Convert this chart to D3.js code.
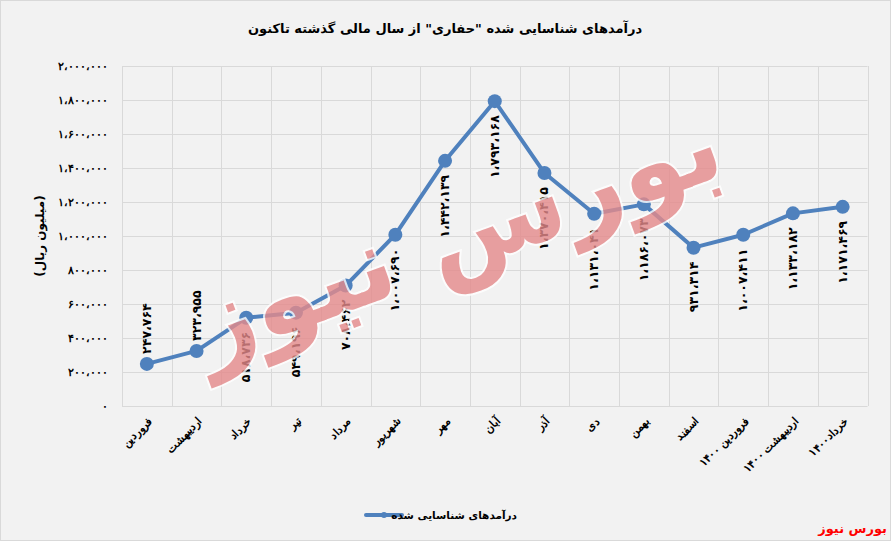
<!DOCTYPE html>
<html><head><meta charset="utf-8">
<script src="https://cdn.jsdelivr.net/npm/d3@7"></script>
<style>
html,body{margin:0;padding:0;background:#f2f2f2;}
svg{display:block;font-family:"DejaVu Sans",sans-serif;}
</style></head>
<body>
<svg id="chart" width="891" height="541"></svg>
<script>
const title = 'درآمدهای شناسایی شده "حفاری" از سال مالی گذشته تاکنون';
const categories = ["فروردین","اردیبهشت","خرداد","تیر","مرداد","شهریور","مهر","آبان","آذر","دی","بهمن","اسفند","فروردین ۱۴۰۰","اردیبهشت ۱۴۰۰","خرداد۱۴۰۰"];
const values = [247764, 323955, 518736, 549196, 708462, 1007690, 1442139, 1793168, 1370415, 1131041, 1186073, 931314, 1007411, 1133182, 1171469];
const yTicks = [0, 200000, 400000, 600000, 800000, 1000000, 1200000, 1400000, 1600000, 1800000, 2000000];
const seriesName = "درآمدهای شناسایی شده";
const yTitle = "(میلیون ریال)";
const source = "بورس نیوز";
const labelsAbove = [0, 1];

const fa = "۰۱۲۳۴۵۶۷۸۹";
function toFa(n){
  const s = d3.format(",")(n);
  return s.replace(/[0-9]/g, d => fa[+d]).replace(/,/g, "،");
}

const svg = d3.select("#chart");
const W = 891, H = 541;
const m = {left:122, right:891-867.5, top:66, bottom:541-406};

svg.append("rect").attr("x",0.5).attr("y",0.5).attr("width",W-1).attr("height",H-1)
  .attr("fill","#f2f2f2").attr("stroke","#d9d9d9");

const x = d3.scaleBand().domain(categories).range([m.left, W-m.right]);
const y = d3.scaleLinear().domain([0,2000000]).range([H-m.bottom, m.top]);

// grid
const g = svg.append("g");
g.selectAll("line.h").data(yTicks).join("line")
  .attr("x1", m.left).attr("x2", W-m.right)
  .attr("y1", d=>y(d)+0.5).attr("y2", d=>y(d)+0.5)
  .attr("stroke","#d9d9d9");
const edges = categories.map(c=>x(c)).concat([x.range()[1]]);
g.selectAll("line.v").data(edges).join("line")
  .attr("x1", d=>Math.round(d)+0.5).attr("x2", d=>Math.round(d)+0.5)
  .attr("y1", y(2000000)).attr("y2", y(0))
  .attr("stroke","#d9d9d9");

// y axis
const yAxis = d3.axisLeft(y).tickValues(yTicks).tickSize(0).tickPadding(14).tickFormat(toFa);
const ya = svg.append("g").attr("transform",`translate(${m.left},0)`).call(yAxis);
ya.select(".domain").remove();
ya.selectAll("text").attr("font-size",11).attr("font-weight","bold").attr("fill","#000");

// x axis
const xAxis = d3.axisBottom(x).tickSize(0).tickFormat(d=>d);
const xa = svg.append("g").attr("transform",`translate(0,${y(0)})`).call(xAxis);
xa.select(".domain").remove();
xa.selectAll("text")
  .attr("font-size",11).attr("font-weight","bold").attr("fill","#000")
  .attr("text-anchor","end").attr("dy",null).attr("y",0)
  .attr("transform","translate(6,16) rotate(-45)");

// title
svg.append("text").attr("x",445).attr("y",33).attr("text-anchor","middle")
  .attr("font-size",13).attr("font-weight","bold").text(title);

// y title
svg.append("text").attr("transform","translate(44,236) rotate(-90)")
  .attr("text-anchor","middle").attr("font-size",12).attr("font-weight","bold").text(yTitle);

// line
const cx = c => x(c) + x.bandwidth()/2;
const line = d3.line().x((d,i)=>cx(categories[i])).y(d=>y(d));
svg.append("path").datum(values).attr("d",line).attr("fill","none")
  .attr("stroke","#4f81bd").attr("stroke-width",4).attr("stroke-linejoin","round");
svg.selectAll("circle.pt").data(values).join("circle")
  .attr("cx",(d,i)=>cx(categories[i])).attr("cy",d=>y(d)).attr("r",7)
  .attr("fill","#4f81bd");

// data labels
svg.selectAll("text.lbl").data(values).join("text")
  .attr("font-size",12.5).attr("font-weight","bold").attr("fill","#000")
  .attr("transform",(d,i)=>{
    const px = cx(categories[i]), py = y(d);
    return labelsAbove.includes(i)
      ? `translate(${px+4},${py-10}) rotate(-90)`
      : `translate(${px+4},${py+14}) rotate(-90)`;
  })
  .attr("text-anchor",(d,i)=>labelsAbove.includes(i)?"start":"end")
  .text(d=>toFa(d));

// watermark
svg.append("text").attr("transform","translate(468,268) rotate(-20)")
  .attr("text-anchor","middle").attr("font-size",105).attr("font-weight","bold")
  .attr("fill","#e58a8b").attr("stroke","#ffffff").attr("stroke-width",4)
  .attr("paint-order","stroke").attr("opacity",0.8).text(source);

// legend
const lg = svg.append("g");
lg.append("line").attr("x1",366).attr("x2",402).attr("y1",515).attr("y2",515)
  .attr("stroke","#4f81bd").attr("stroke-width",4).attr("stroke-linecap","round");
lg.append("circle").attr("cx",384).attr("cy",515).attr("r",3).attr("fill","#4f81bd");
lg.append("text").attr("x",517).attr("y",519).attr("text-anchor","end")
  .attr("font-size",10.5).attr("font-weight","bold").text(seriesName);

// source
svg.append("text").attr("x",887).attr("y",533).attr("text-anchor","end")
  .attr("font-size",13).attr("font-weight","bold").attr("fill","#ff0000").text(source);
</script>
</body></html>
